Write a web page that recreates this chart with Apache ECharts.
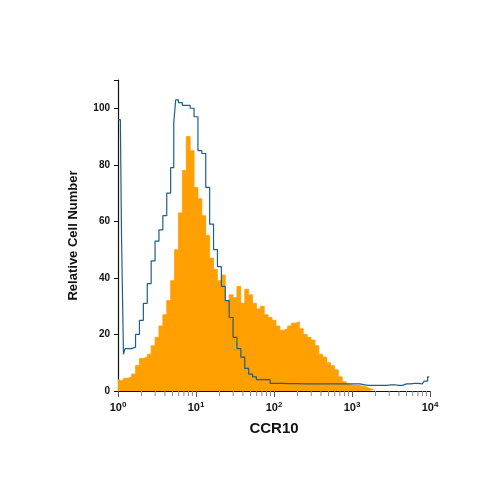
<!DOCTYPE html>
<html><head><meta charset="utf-8">
<script src="https://cdn.jsdelivr.net/npm/echarts@6/dist/echarts.min.js"></script>
<style>html,body{margin:0;padding:0;background:#fff}#c{width:500px;height:500px}</style>
</head><body><div id="c"></div>
<script>
// log10 positions of histogram bins
const orangeLog = [0,0.05,0.1,0.15,0.2,0.25,0.3,0.35,0.4,0.45,0.5,0.55,0.6,0.65,0.7,0.75,0.8,0.85,0.9,0.95,1.0,1.05,1.1,1.15,1.2,1.25,1.3,1.35,1.4,1.45,1.5,1.55,1.6,1.65,1.7,1.75,1.8,1.85,1.9,1.95,2.0,2.05,2.1,2.15,2.2,2.25,2.3,2.35,2.4,2.45,2.5,2.55,2.6,2.65,2.7,2.75,2.8,2.85,2.9,2.95,3.0,3.05,3.1,3.15,3.2,3.25,3.3];
const orangeVal = [4,3.5,4.5,5,6,9,11.5,12,13,16,19,23,27,32,39,50,63,78,90,85,72,68,62,55,47,43,39,41,32,34,33,37,31,36,34,31,29,30,27,26,25,23,21.5,22,23,24,24.5,22,20,19,18,16,13,12,10,9,7.5,5,3.3,2.5,2,2,1.8,1.5,1,0.5,0];
const blueLog = [0,0.03,0.06,0.08,0.1,0.15,0.2,0.25,0.3,0.35,0.4,0.45,0.5,0.55,0.6,0.65,0.7,0.73,0.75,0.8,0.85,0.9,0.95,1.0,1.05,1.1,1.15,1.2,1.25,1.3,1.35,1.4,1.45,1.5,1.55,1.6,1.65,1.7,1.75,1.8,1.9,2.0,2.2,2.4,2.6,2.8,3.0,3.2,3.3,3.4,3.5,3.6,3.7,3.8,3.9,3.95,3.99];
const blueVal = [96,96,55,13,15,15,15.5,20,25,31,38,46,53,57,62,70,79,95,103,102,101,101,100,97,85,84,72,59,50,44,37,32,26,19,15,12,8,6,5,4,4,2.7,2.6,2.5,2.5,2.5,2.5,2,2,2,2.2,2,2.5,2.7,2.5,3.5,5];
const yTicks = [0,20,40,60,80,100];
const minorMult = [2,3,4,5,6,7,8,9];

const toPts = (L, V) => L.map((l, i) => [Math.pow(10, l), V[i]]);
const minorTicks = [];
for (let d = 0; d < 4; d++) for (const m of minorMult) minorTicks.push([m * Math.pow(10, d), 0]);

const chart = echarts.init(document.getElementById('c'));
const F = 'Liberation Sans';
chart.setOption({
  animation: false,
  grid: {left: 118, right: 70, top: 80, bottom: 109},
  xAxis: {
    type: 'log', logBase: 10, min: 1, max: 10000,
    name: 'CCR10', nameLocation: 'middle', nameGap: 30,
    nameTextStyle: {fontFamily: F, fontWeight: 'bold', fontSize: 15, color: '#111'},
    axisLine: {lineStyle: {color: '#111', width: 1.2}},
    axisTick: {show: true, inside: false, length: 6, lineStyle: {color: '#555'}},
    splitLine: {show: false},
    axisLabel: {
      fontFamily: F, color: '#111', margin: 10,
      formatter: v => '{b|10}{s|' + Math.round(Math.log10(v)) + '}',
      rich: {b: {fontSize: 11, fontWeight: 'bold', fontFamily: F, color: '#111'},
             s: {fontSize: 8, fontWeight: 'bold', fontFamily: F, color: '#111', verticalAlign: 'top', padding: [0,0,6,0]}}
    }
  },
  yAxis: {
    type: 'value', min: 0, max: 110, interval: 20,
    name: 'Relative Cell Number', nameLocation: 'middle', nameGap: 38, nameRotate: 90,
    nameTextStyle: {fontFamily: F, fontWeight: 'bold', fontSize: 13, color: '#111'},
    axisLine: {show: true, lineStyle: {color: '#111', width: 1.2}},
    axisTick: {show: true, length: 4, lineStyle: {color: '#111'}},
    splitLine: {show: false},
    axisLabel: {fontFamily: F, fontWeight: 'bold', fontSize: 10, color: '#111', margin: 8,
      formatter: v => yTicks.includes(v) ? String(v) : ''}
  },
  series: [
    {type: 'line', step: 'middle', data: toPts(orangeLog, orangeVal), symbol: 'none',
     lineStyle: {width: 0.8, color: '#FFA000'}, areaStyle: {color: '#FFA000', opacity: 1}, z: 2},
    {type: 'line', step: 'middle', data: toPts(blueLog, blueVal), symbol: 'none',
     lineStyle: {width: 1.2, color: '#1d5f87'}, z: 3},
    {type: 'custom', data: minorTicks, clip: false, z: 4, silent: true,
     renderItem: (p, api) => {
       const pt = api.coord([api.value(0), 0]);
       return {type: 'line', shape: {x1: pt[0], y1: pt[1], x2: pt[0], y2: pt[1] + 5},
               style: {stroke: '#888', lineWidth: 1}};
     }}
  ]
});
</script></body></html>
